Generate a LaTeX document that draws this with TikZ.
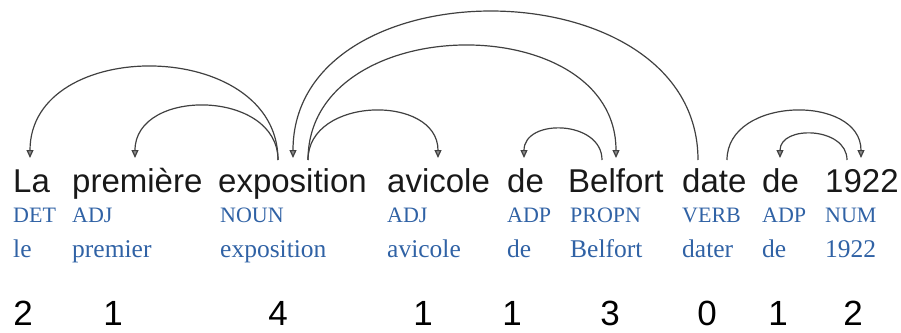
\documentclass[tikz,border=0pt]{standalone}
\usepackage{fontspec}
\setmainfont{Liberation Serif}
\newfontfamily\wordfont{Liberation Sans}
\usetikzlibrary{arrows.meta}
\definecolor{tagblue}{RGB}{48,98,165}
\begin{document}
\begin{tikzpicture}[x=1pt,y=-1pt,
  word/.style={anchor=base west,inner sep=0pt,font=\wordfont\fontsize{33}{33}\selectfont,text=black!90},
  tag/.style={anchor=base west,inner sep=0pt,font=\fontsize{22}{22}\selectfont,text=tagblue},
  lemma/.style={anchor=base west,inner sep=0pt,font=\fontsize{25.5}{25.5}\selectfont,text=tagblue},
  depth/.style={anchor=base,inner sep=0pt,font=\wordfont\fontsize{35}{35}\selectfont,text=black},
  dep/.style={line width=1.2pt,draw=black!75,-{Triangle[length=8pt,width=7pt,fill=black!45]}}]
\useasboundingbox (0,0) rectangle (901,332);

% tokens: word, part of speech, lemma
\node[word] (w1) at (13,192) {La};
\node[word] (w2) at (72,192) {première};
\node[word] (w3) at (218,192) {exposition};
\node[word] (w4) at (387,192) {avicole};
\node[word] (w5) at (507,192) {de};
\node[word] (w6) at (568,192) {Belfort};
\node[word] (w7) at (682,192) {date};
\node[word] (w8) at (762,192) {de};
\node[word] (w9) at (825,192) {1922};

\node[tag] (t1) at (13,222) {DET};
\node[tag] (t2) at (72,222) {ADJ};
\node[tag] (t3) at (220,222) {NOUN};
\node[tag] (t4) at (387,222) {ADJ};
\node[tag] (t5) at (507,222) {ADP};
\node[tag] (t6) at (570,222) {PROPN};
\node[tag] (t7) at (682,222) {VERB};
\node[tag] (t8) at (762,222) {ADP};
\node[tag] (t9) at (825,222) {NUM};

\node[lemma] (l1) at (13,257) {le};
\node[lemma] (l2) at (72,257) {premier};
\node[lemma] (l3) at (220,257) {exposition};
\node[lemma] (l4) at (387,257) {avicole};
\node[lemma] (l5) at (507,257) {de};
\node[lemma] (l6) at (570,257) {Belfort};
\node[lemma] (l7) at (682,257) {dater};
\node[lemma] (l8) at (762,257) {de};
\node[lemma] (l9) at (825,257) {1922};

% tree depths
\node[depth] (d1) at (23,325) {2};
\node[depth] (d2) at (113,325) {1};
\node[depth] (d3) at (278,325) {4};
\node[depth] (d4) at (423,325) {1};
\node[depth] (d5) at (512,325) {1};
\node[depth] (d6) at (610,325) {3};
\node[depth] (d7) at (707,325) {0};
\node[depth] (d8) at (778,325) {1};
\node[depth] (d9) at (853,325) {2};

% arc attachment points above the words
\coordinate (w1in)   at (30,158);
\coordinate (w2in)   at (135,158);
\coordinate (w3outL) at (278,160);
\coordinate (w3in)   at (293,158);
\coordinate (w3outR) at (308,160);
\coordinate (w4in)   at (438,158);
\coordinate (w5in)   at (524,158);
\coordinate (w6out)  at (602,160);
\coordinate (w6in)   at (616,158);
\coordinate (w7out)  at (698,160);
\coordinate (w7outR) at (727,160);
\coordinate (w8in)   at (780,158);
\coordinate (w9out)  at (847,160);
\coordinate (w9in)   at (861,158);

% dependency arcs, head to dependent
\draw[dep] (w3outL) .. controls +(0,-122.7) and +(0,-122.7) .. (w1in);
\draw[dep] (w3outL) .. controls +(0,-70.7) and +(0,-70.7) .. (w2in);
\draw[dep] (w7out) .. controls +(0,-196) and +(0,-196) .. (w3in);
\draw[dep] (w3outR) .. controls +(0,-150.7) and +(0,-150.7) .. (w6in);
\draw[dep] (w3outR) .. controls +(0,-64) and +(0,-64) .. (w4in);
\draw[dep] (w6out) .. controls +(0,-40) and +(0,-40) .. (w5in);
\draw[dep] (w7outR) .. controls +(0,-64) and +(0,-64) .. (w9in);
\draw[dep] (w9out) .. controls +(0,-33.3) and +(0,-33.3) .. (w8in);
\end{tikzpicture}
\end{document}
